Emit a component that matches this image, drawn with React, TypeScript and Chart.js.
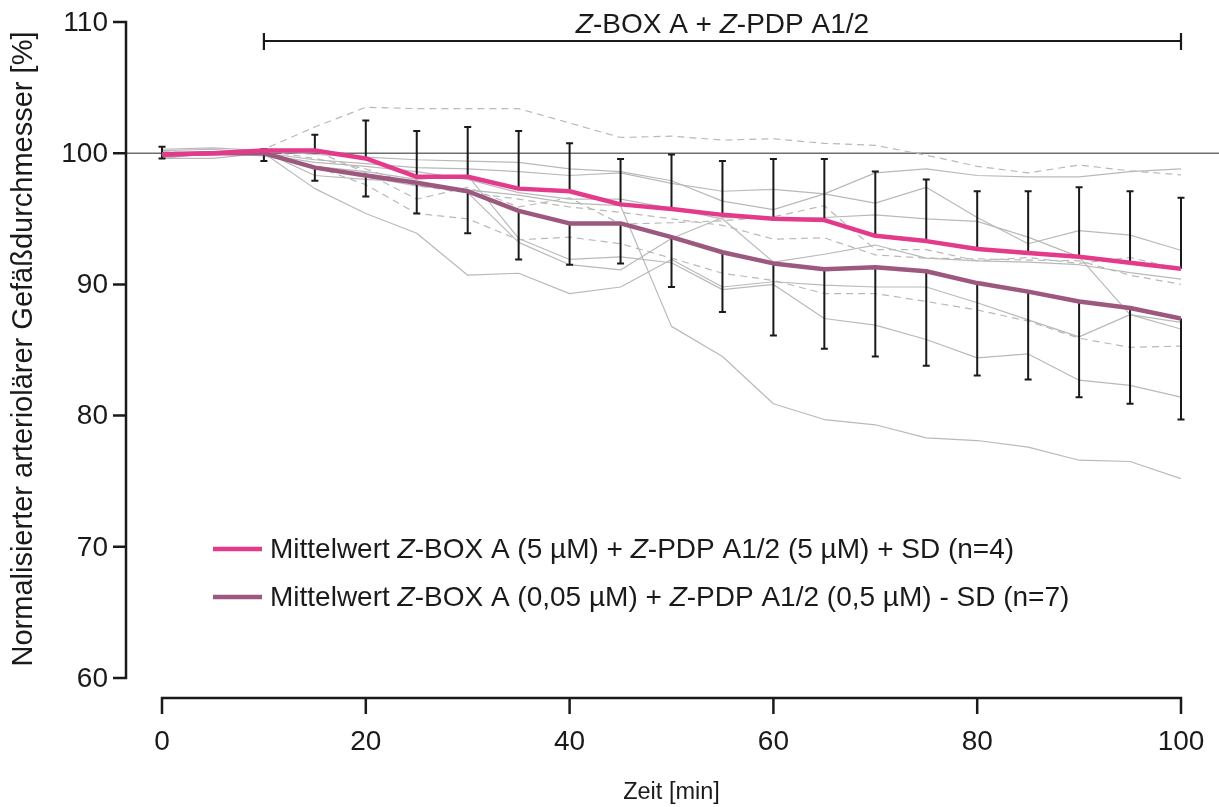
import React, { useEffect, useRef } from "react";
import { Chart, registerables } from "chart.js";

Chart.register(...registerables);

const FONT = '"Liberation Sans", Arial, Helvetica, sans-serif';

const times = [0, 5, 10, 15, 20, 25, 30, 35, 40, 45, 50, 55, 60, 65, 70, 75, 80, 85, 90, 95, 100];

// Mean curves
const meanHigh = [99.9, 100, 100.2, 100.2, 99.6, 98.2, 98.2, 97.3, 97.1, 96.1, 95.75, 95.3, 95.0, 94.9, 93.7, 93.3, 92.7, 92.4, 92.1, 91.65, 91.2];
const sdHigh = [0.6, 0, 0.1, 1.2, 2.9, 3.5, 3.8, 4.4, 3.65, 3.45, 4.15, 4.1, 4.55, 4.65, 4.9, 4.7, 4.4, 4.7, 5.3, 5.45, 5.4];
const meanLow = [99.9, 100, 100, 98.9, 98.3, 97.75, 97.1, 95.6, 94.65, 94.65, 93.6, 92.45, 91.6, 91.15, 91.3, 91.0, 90.1, 89.45, 88.7, 88.2, 87.4];
const sdLow = [0.3, 0, 0.6, 1.0, 1.6, 2.35, 3.2, 3.7, 3.15, 3.05, 3.8, 4.55, 5.5, 6.05, 6.8, 7.2, 7.05, 6.7, 7.3, 7.3, 7.7];

// Individual experiments, high dose (dashed)
const dashed1 = [100, 100, 100.3, 102, 103.5, 103.4, 103.4, 103.4, 102.3, 101.2, 101.3, 101.0, 101.1, 100.75, 100.6, 99.85, 99.0, 98.5, 99.1, 98.65, 98.35];
const dashed2 = [99.8, 100, 100.2, 99.6, 98.8, 97.5, 97.0, 96.5, 95.9, 95.5, 95.0, 94.5, 93.45, 93.55, 92.25, 92.0, 91.95, 91.85, 91.8, 90.7, 90.0];
const dashed3 = [99.7, 100, 100.0, 99.0, 97.6, 95.4, 95.0, 93.4, 93.6, 93.1, 92.0, 90.85, 90.3, 89.3, 89.3, 88.7, 88.05, 87.2, 85.9, 85.2, 85.3];
const dashed4 = [100.1, 100, 100.3, 100.2, 98.5, 96.5, 97.4, 95.9, 96.6, 94.6, 94.7, 94.85, 95.15, 96.0, 92.65, 92.65, 91.8, 92.05, 91.6, 92.05, 91.15];

// Individual experiments, low dose (solid)
const solid1 = [99.6, 100, 100.0, 99.0, 98.6, 98.0, 98.3, 93.5, 91.9, 92.1, 91.65, 89.6, 90.0, 87.4, 86.9, 85.8, 84.4, 84.7, 82.7, 82.3, 81.4];
const solid2 = [99.6, 99.6, 100.0, 97.3, 95.4, 93.9, 90.7, 90.85, 89.3, 89.8, 91.9, 89.8, 90.2, 89.95, 89.8, 89.8, 88.6, 87.3, 86.0, 87.7, 86.6];
const solid3 = [99.8, 100, 99.8, 99.0, 98.2, 97.5, 97.2, 96.8, 96.2, 96.0, 86.8, 84.5, 80.9, 79.7, 79.3, 78.3, 78.1, 77.6, 76.6, 76.5, 75.2];
const solid4 = [100.1, 100, 99.9, 99.3, 99.0, 98.6, 98.0, 97.0, 96.5, 96.5, 95.8, 95.0, 91.7, 92.3, 93.0, 92.0, 91.8, 91.7, 91.5, 90.9, 90.4];
const solid5 = [99.7, 100, 100.1, 98.3, 98.0, 97.8, 97.0, 93.2, 91.5, 91.1, 93.5, 95.1, 95.0, 95.1, 95.3, 95.0, 94.8, 93.6, 92.1, 87.7, 87.1];
const solid6 = [100.3, 100.4, 100.2, 99.9, 99.7, 99.5, 99.4, 99.3, 98.8, 98.6, 97.9, 96.35, 95.7, 96.9, 98.5, 98.8, 98.3, 98.2, 98.2, 98.6, 98.8];
const solid7 = [100.2, 100.3, 100.0, 99.5, 99.2, 98.9, 98.8, 98.6, 98.3, 98.5, 97.7, 97.1, 97.25, 96.9, 96.2, 97.4, 95.1, 93.1, 94.1, 93.75, 92.6];

const yTicks = [60, 70, 80, 90, 100, 110];
const xTicks = [0, 20, 40, 60, 80, 100];
const baseline = 100;
const treatmentStart = 10;
const treatmentEnd = 100;

const annotationText = "*Z*-BOX A + *Z*-PDP A1/2";
const legendLabels = [
  "Mittelwert *Z*-BOX A (5 µM) + *Z*-PDP A1/2 (5 µM) + SD (n=4)",
  "Mittelwert *Z*-BOX A (0,05 µM) + *Z*-PDP A1/2 (0,5 µM) - SD (n=7)",
];
const yTitle = "Normalisierter arteriolärer Gefäßdurchmesser [%]";
const xTitle = "Zeit [min]";

const PINK = "rgb(228, 58, 140)";
const MAUVE = "rgb(156, 88, 126)";
const GREY = "rgb(185, 185, 185)";
const INK = "#1a1a1a";

const toPts = (vals: number[]) => vals.map((v, i) => ({ x: times[i], y: v }));

function parseRuns(s: string) {
  return s.split("*").map((t, k) => ({ t, i: k % 2 === 1 })).filter((r) => r.t.length > 0);
}

function drawRuns(ctx: CanvasRenderingContext2D, s: string, x: number, y: number, size: number, align: "left" | "center" | "right") {
  const runs = parseRuns(s);
  let total = 0;
  const widths = runs.map((r) => {
    ctx.font = `${r.i ? "italic " : ""}${size}px ${FONT}`;
    const w = ctx.measureText(r.t).width;
    total += w;
    return w;
  });
  let cx = align === "center" ? x - total / 2 : align === "right" ? x - total : x;
  ctx.textAlign = "left";
  runs.forEach((r, k) => {
    ctx.font = `${r.i ? "italic " : ""}${size}px ${FONT}`;
    ctx.fillText(r.t, cx, y);
    cx += widths[k];
  });
}

const decorPlugin = {
  id: "decor",
  beforeDatasetsDraw(chart: any) {
    const { ctx, chartArea, scales } = chart;
    const y = scales.y.getPixelForValue(baseline);
    ctx.save();
    ctx.strokeStyle = "rgb(110,110,110)";
    ctx.lineWidth = 1.5;
    ctx.beginPath();
    ctx.moveTo(chartArea.left - 36, y);
    ctx.lineTo(chart.width, y);
    ctx.stroke();
    ctx.restore();
  },
  beforeDatasetDraw(chart: any, args: any) {
    // draw error bars just before the first mean curve is painted
    if (args.index !== 1) return;
    const { ctx, scales } = chart;
    const xs = scales.x;
    const ys = scales.y;
    ctx.save();
    ctx.strokeStyle = INK;
    ctx.lineWidth = 2;
    const cap = 3.5;
    const bar = (t: number, from: number, to: number) => {
      const px = xs.getPixelForValue(t);
      const p0 = ys.getPixelForValue(from);
      const p1 = ys.getPixelForValue(to);
      ctx.beginPath();
      ctx.moveTo(px, p0);
      ctx.lineTo(px, p1);
      ctx.moveTo(px - cap, p1);
      ctx.lineTo(px + cap, p1);
      ctx.stroke();
    };
    times.forEach((t, i) => {
      bar(t, meanHigh[i], meanHigh[i] + sdHigh[i]);
      bar(t, meanLow[i], meanLow[i] - sdLow[i]);
    });
    ctx.restore();
  },
  afterDraw(chart: any) {
    const { ctx, chartArea, scales } = chart;
    const xs = scales.x;
    const ys = scales.y;
    ctx.save();
    ctx.fillStyle = INK;
    ctx.strokeStyle = INK;
    ctx.lineWidth = 2.5;
    ctx.lineCap = "butt";

    // Y axis
    const ax = chartArea.left - 36;
    const yTop = ys.getPixelForValue(yTicks[yTicks.length - 1]);
    const yBot = ys.getPixelForValue(yTicks[0]);
    ctx.beginPath();
    ctx.moveTo(ax, yTop - 1.25);
    ctx.lineTo(ax, yBot + 1.25);
    yTicks.forEach((v) => {
      const p = ys.getPixelForValue(v);
      ctx.moveTo(ax - 13, p);
      ctx.lineTo(ax, p);
    });
    ctx.stroke();
    ctx.textBaseline = "middle";
    yTicks.forEach((v) => {
      drawRuns(ctx, String(v), ax - 18, ys.getPixelForValue(v) + 1, 28, "right");
    });

    // X axis
    const ay = chartArea.bottom + 20;
    const xL = xs.getPixelForValue(xTicks[0]);
    const xR = xs.getPixelForValue(xTicks[xTicks.length - 1]);
    ctx.beginPath();
    ctx.moveTo(xL - 1.25, ay);
    ctx.lineTo(xR + 1.25, ay);
    xTicks.forEach((v) => {
      const p = xs.getPixelForValue(v);
      ctx.moveTo(p, ay);
      ctx.lineTo(p, ay + 16);
    });
    ctx.stroke();
    ctx.textBaseline = "alphabetic";
    xTicks.forEach((v) => {
      drawRuns(ctx, String(v), xs.getPixelForValue(v), ay + 52, 28, "center");
    });

    // Axis titles
    drawRuns(ctx, xTitle, (xL + xR) / 2, ay + 101, 23.5, "center");
    ctx.save();
    ctx.translate(32, chartArea.top + 327);
    ctx.rotate(-Math.PI / 2);
    drawRuns(ctx, yTitle, 0, 0, 29, "center");
    ctx.restore();

    // Treatment bracket
    const bx0 = xs.getPixelForValue(treatmentStart);
    const bx1 = xs.getPixelForValue(treatmentEnd);
    const by = chartArea.top + 19;
    ctx.lineWidth = 2.2;
    ctx.beginPath();
    ctx.moveTo(bx0, by);
    ctx.lineTo(bx1, by);
    ctx.moveTo(bx0, by - 8);
    ctx.lineTo(bx0, by + 9);
    ctx.moveTo(bx1, by - 8);
    ctx.lineTo(bx1, by + 9);
    ctx.stroke();
    drawRuns(ctx, annotationText, (bx0 + bx1) / 2, by - 8, 28, "center");

    // Legend
    const colors = [PINK, MAUVE];
    legendLabels.forEach((lab, k) => {
      const ly = chartArea.top + 527 + k * 48;
      const lx = chartArea.left + 51;
      ctx.strokeStyle = colors[k];
      ctx.lineWidth = 4.5;
      ctx.beginPath();
      ctx.moveTo(lx, ly);
      ctx.lineTo(lx + 49, ly);
      ctx.stroke();
      ctx.fillStyle = INK;
      ctx.textBaseline = "middle";
      drawRuns(ctx, lab, lx + 57, ly + 1, 28, "left");
    });
    ctx.restore();
  },
};

export default function App() {
  const ref = useRef<HTMLCanvasElement | null>(null);
  useEffect(() => {
    if (!ref.current) return;
    const greyDash = (vals: number[]) => ({
      data: toPts(vals),
      borderColor: GREY,
      borderWidth: 1.2,
      borderDash: [7, 5],
      pointRadius: 0,
      order: 2,
    });
    const greySolid = (vals: number[]) => ({
      data: toPts(vals),
      borderColor: GREY,
      borderWidth: 1.2,
      pointRadius: 0,
      order: 2,
    });
    const chart = new Chart(ref.current, {
      type: "line",
      data: {
        datasets: [
          { data: toPts(meanHigh), borderColor: PINK, borderWidth: 4.5, pointRadius: 0, order: 0 } as any,
          { data: toPts(meanLow), borderColor: MAUVE, borderWidth: 4.5, pointRadius: 0, order: 0 } as any,
          greyDash(dashed1),
          greyDash(dashed2),
          greyDash(dashed3),
          greyDash(dashed4),
          greySolid(solid1),
          greySolid(solid2),
          greySolid(solid3),
          greySolid(solid4),
          greySolid(solid5),
          greySolid(solid6),
          greySolid(solid7),
        ],
      },
      options: {
        responsive: false,
        animation: false,
        layout: { padding: { left: 162, right: 38, top: 22, bottom: 129 } },
        plugins: { legend: { display: false }, tooltip: { enabled: false }, title: { display: false } },
        elements: { line: { tension: 0, borderJoinStyle: "round" } },
        scales: {
          x: { type: "linear", min: 0, max: 100, display: false },
          y: { type: "linear", min: 60, max: 110, display: false },
        },
      },
      plugins: [decorPlugin],
    });
    return () => chart.destroy();
  }, []);
  return (
    <div style={{ position: "absolute", left: 0, top: 0, width: 1219, height: 807, background: "#fff" }}>
      <canvas ref={ref} width={1219} height={807} style={{ display: "block" }} />
    </div>
  );
}
